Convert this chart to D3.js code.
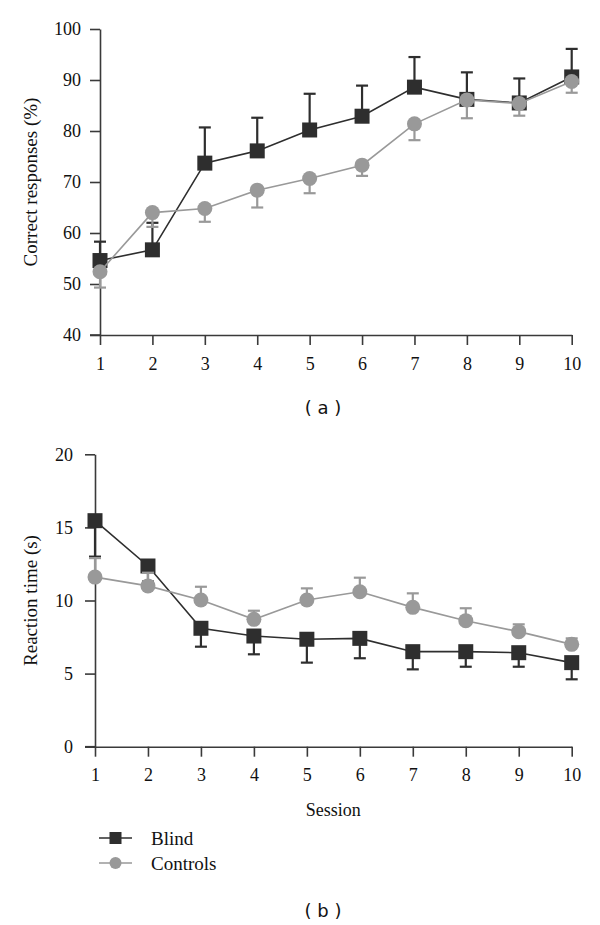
<!DOCTYPE html>
<html>
<head>
<meta charset="utf-8">
<script src="https://cdn.jsdelivr.net/npm/d3@7"></script>
<style>
  html, body { margin: 0; padding: 0; background: #fff; }
  svg { display: block; }
  .serif { font-family: "Liberation Serif", "DejaVu Serif", "Times New Roman", serif; }
  .sans { font-family: "DejaVu Sans", Verdana, sans-serif; }
</style>
</head>
<body>
<svg id="chart" width="600" height="925"></svg>
<script>
// ---- Data ----
const sessions = [1, 2, 3, 4, 5, 6, 7, 8, 9, 10];
const seriesNames = ["Blind", "Controls"];

// (a) Correct responses (%)
const accBlind      = [54.6, 56.7, 73.7, 76.1, 80.2, 82.9, 88.6, 86.2, 85.5, 90.6];
const accBlindSem   = [3.7, 5.3, 7.0, 6.5, 7.1, 6.0, 5.9, 5.3, 4.8, 5.5];
const accControls   = [52.4, 64.0, 64.8, 68.4, 70.7, 73.3, 81.4, 86.1, 85.4, 89.7];
const accControlsSem= [3.1, 2.8, 2.6, 3.4, 2.9, 2.1, 3.2, 3.6, 2.4, 2.2];
const accTicks = [40, 50, 60, 70, 80, 90, 100];

// (b) Reaction time (s)
const rtBlind       = [15.46, 12.36, 8.1, 7.57, 7.35, 7.41, 6.5, 6.5, 6.43, 5.75];
const rtBlindSem    = [2.46, 1.06, 1.26, 1.25, 1.6, 1.36, 1.21, 1.03, 0.96, 1.14];
const rtControls    = [11.6, 11.0, 10.03, 8.71, 10.03, 10.6, 9.53, 8.62, 7.87, 7.0];
const rtControlsSem = [1.3, 0.9, 0.91, 0.59, 0.8, 0.96, 0.96, 0.85, 0.5, 0.41];
const rtTicks = [0, 5, 10, 15, 20];

// ---- Styles ----
const darkCol = "#2e2e2e";
const grayCol = "#999999";
const axisCol = "#3a3a3a";
const serifStack = "Liberation Serif, DejaVu Serif, serif";

const svg = d3.select("#chart");

function panel(opts) {
  const x = d3.scaleLinear().domain([1, 10]).range(opts.xRange);
  const y = d3.scaleLinear().domain(opts.yDomain).range(opts.yRange);
  const g = svg.append("g");

  const yAxis = d3.axisLeft(y).tickValues(opts.yTicks).tickSize(10).tickSizeOuter(0).tickPadding(opts.yPad);
  const xAxis = d3.axisBottom(x).tickValues(sessions).tickSize(10).tickSizeOuter(0).tickPadding(12);

  const gy = g.append("g").attr("transform", `translate(${opts.xRange[0]},0)`).call(yAxis);
  const gx = g.append("g").attr("transform", `translate(0,${opts.yRange[0]})`).call(xAxis);
  [gx, gy].forEach(a => {
    a.attr("font-family", serifStack).attr("font-size", 18);
    a.selectAll("path.domain").attr("stroke", axisCol).attr("stroke-width", 1.6);
    a.selectAll(".tick line").attr("stroke", axisCol).attr("stroke-width", 1.6);
    a.selectAll(".tick text").attr("fill", "#111").attr("class", "serif").style("font-size", "18px");
  });
  g.append("line")
    .attr("x1", opts.xRange[0] - 10).attr("x2", opts.xRange[0])
    .attr("y1", opts.yRange[0]).attr("y2", opts.yRange[0])
    .attr("stroke", axisCol).attr("stroke-width", 1.6);

  g.append("text").attr("class", "serif")
    .attr("transform", `translate(30,${(opts.yRange[0] + opts.yRange[1]) / 2}) rotate(-90)`)
    .attr("text-anchor", "middle")
    .attr("dominant-baseline", "central")
    .style("font-size", "19px").attr("fill", "#111")
    .text(opts.yLabel);

  const line = d3.line().x((d, i) => x(sessions[i])).y(d => y(d));

  function drawSeries(vals, sems, dir, color, shape) {
    const sg = g.append("g");
    sg.append("path").datum(vals).attr("d", line)
      .attr("fill", "none").attr("stroke", color).attr("stroke-width", 1.6);
    const eb = sg.selectAll(".eb").data(vals).join("g");
    eb.append("line")
      .attr("x1", (d, i) => x(sessions[i])).attr("x2", (d, i) => x(sessions[i]))
      .attr("y1", d => y(d)).attr("y2", (d, i) => y(d + dir * sems[i]))
      .attr("stroke", color).attr("stroke-width", 2.2);
    eb.append("line")
      .attr("x1", (d, i) => x(sessions[i]) - 6).attr("x2", (d, i) => x(sessions[i]) + 6)
      .attr("y1", (d, i) => y(d + dir * sems[i])).attr("y2", (d, i) => y(d + dir * sems[i]))
      .attr("stroke", color).attr("stroke-width", 2.2);
    if (shape === "square") {
      sg.selectAll("rect.pt").data(vals).join("rect").attr("class", "pt")
        .attr("x", (d, i) => x(sessions[i]) - 7.5).attr("y", d => y(d) - 7.5)
        .attr("width", 15).attr("height", 15).attr("fill", color);
    } else {
      sg.selectAll("circle.pt").data(vals).join("circle").attr("class", "pt")
        .attr("cx", (d, i) => x(sessions[i])).attr("cy", d => y(d))
        .attr("r", 7.5).attr("fill", color);
    }
  }
  drawSeries(opts.blind, opts.blindSem, opts.blindDir, darkCol, "square");
  drawSeries(opts.controls, opts.controlsSem, -opts.blindDir, grayCol, "circle");
  return { x, y, g };
}

// Panel (a)
panel({
  xRange: [100, 571.7], yDomain: [40, 100], yRange: [335, 29], yTicks: accTicks, yPad: 9,
  yLabel: "Correct responses (%)",
  blind: accBlind, blindSem: accBlindSem, blindDir: 1,
  controls: accControls, controlsSem: accControlsSem
});
svg.append("text").attr("class", "sans").attr("x", 323).attr("y", 407).attr("text-anchor", "middle")
  .attr("dominant-baseline", "central")
  .style("font-size", "18px").attr("fill", "#111").text("( a )");

// Panel (b)
panel({
  xRange: [95, 571.7], yDomain: [0, 20], yRange: [746.7, 454.3], yTicks: rtTicks, yPad: 12,
  yLabel: "Reaction time (s)",
  blind: rtBlind, blindSem: rtBlindSem, blindDir: -1,
  controls: rtControls, controlsSem: rtControlsSem
});
svg.append("text").attr("class", "serif").attr("x", (95 + 571.7) / 2).attr("y", 810).attr("text-anchor", "middle")
  .attr("dominant-baseline", "central")
  .style("font-size", "18px").attr("fill", "#111").text("Session");

// Legend
const legend = svg.append("g");
const legendY = [838, 863];
seriesNames.forEach((name, i) => {
  const col = i === 0 ? darkCol : grayCol;
  const ly = legendY[i];
  legend.append("line").attr("x1", 99).attr("x2", 132).attr("y1", ly).attr("y2", ly)
    .attr("stroke", col).attr("stroke-width", 1.6);
  if (i === 0) {
    legend.append("rect").attr("x", 115.5 - 6).attr("y", ly - 6).attr("width", 12).attr("height", 12).attr("fill", col);
  } else {
    legend.append("circle").attr("cx", 115.5).attr("cy", ly).attr("r", 6).attr("fill", col);
  }
  legend.append("text").attr("class", "serif").attr("x", 151).attr("y", ly).attr("dominant-baseline", "central")
    .style("font-size", "19px").attr("fill", "#111").text(name);
});

svg.append("text").attr("class", "sans").attr("x", 323).attr("y", 910).attr("text-anchor", "middle")
  .attr("dominant-baseline", "central")
  .style("font-size", "18px").attr("fill", "#111").text("( b )");
</script>
</body>
</html>
